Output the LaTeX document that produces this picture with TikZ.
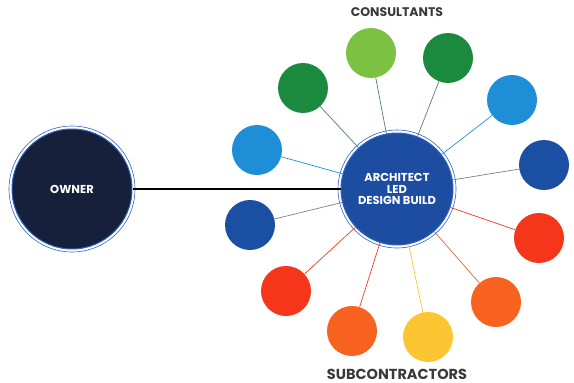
\documentclass[tikz,border=0pt]{standalone}
\usepackage{fontspec}
\setmainfont{Poppins}
\usepackage{xcolor}
\usetikzlibrary{positioning}

\definecolor{ownerfill}{HTML}{16203A}
\definecolor{hubfill}{HTML}{1C4DA1}
\definecolor{ringblue}{HTML}{2F63C0}
\definecolor{lightgreen}{HTML}{7CC242}
\definecolor{darkgreen}{HTML}{1B8A3E}
\definecolor{lightblue}{HTML}{1E8FD6}
\definecolor{darkblue}{HTML}{1A4FA3}
\definecolor{redsat}{HTML}{F5361A}
\definecolor{orangesat}{HTML}{F7621F}
\definecolor{yellowsat}{HTML}{FCC532}
\definecolor{labelgray}{HTML}{3A3A3A}

\begin{document}
\begin{tikzpicture}[x=1pt,y=-1pt,
  sat/.style={circle,inner sep=0pt,minimum size=50pt,fill=#1},
  spoke/.style={line width=0.7pt,draw=#1},
  bigcircle/.style={circle,inner sep=0pt,align=center,text=white,
    font=\fontsize{11.5}{11.5}\selectfont\bfseries,draw=ringblue,line width=1pt},
  heading/.style={text=labelgray,font=\bfseries}]

\useasboundingbox (0,0) rectangle (574,383);

% Owner and hub
\node[bigcircle,fill=ownerfill,minimum size=120pt] (owner) at (72,189) {OWNER};
\node[bigcircle,fill=hubfill,minimum size=112pt] (hub) at (397,189) {ARCHITECT\\LED\\DESIGN BUILD};
\draw[ringblue,line width=0.6pt] (owner.center) circle[radius=63pt];
\draw[ringblue,line width=0.6pt] (hub.center) circle[radius=59pt];

% Owner link
\draw[line width=2.5pt,black] (owner) -- (hub);

% Consultants
\node[sat=lightgreen] (c1) at (371,53) {};
\node[sat=darkgreen] (c2) at (448,58) {};
\node[sat=darkgreen] (c3) at (303,88) {};
\node[sat=lightblue] (c4) at (512,100) {};
\node[sat=lightblue] (c5) at (257,150) {};
\node[sat=darkblue] (c6) at (544,165) {};
\node[sat=darkblue] (c7) at (250,225) {};

% Subcontractors
\node[sat=redsat] (s1) at (539,238) {};
\node[sat=redsat] (s2) at (286,291) {};
\node[sat=orangesat] (s3) at (352,331) {};
\node[sat=yellowsat] (s4) at (428,337) {};
\node[sat=orangesat] (s5) at (496,302) {};

% Spokes
\draw[spoke=darkgreen!50!gray] (c1) -- (hub);
\draw[spoke=darkgreen!50!gray] (c2) -- (hub);
\draw[spoke=darkgreen!50!gray] (c3) -- (hub);
\draw[spoke=lightblue] (c4) -- (hub);
\draw[spoke=lightblue] (c5) -- (hub);
\draw[spoke=gray] (c6) -- (hub);
\draw[spoke=gray] (c7) -- (hub);
\draw[spoke=redsat] (s1) -- (hub);
\draw[spoke=redsat] (s2) -- (hub);
\draw[spoke=redsat!80!orangesat] (s3) -- (hub);
\draw[spoke=yellowsat] (s4) -- (hub);
\draw[spoke=orangesat!70!gray] (s5) -- (hub);

% Headings
\node[heading,font=\fontsize{12.5}{13}\selectfont\bfseries] (cons) at (397,12) {CONSULTANTS};
\node[heading,font=\fontsize{14.5}{15}\selectfont\bfseries] (subs) at (397,374) {SUBCONTRACTORS};

\end{tikzpicture}
\end{document}
